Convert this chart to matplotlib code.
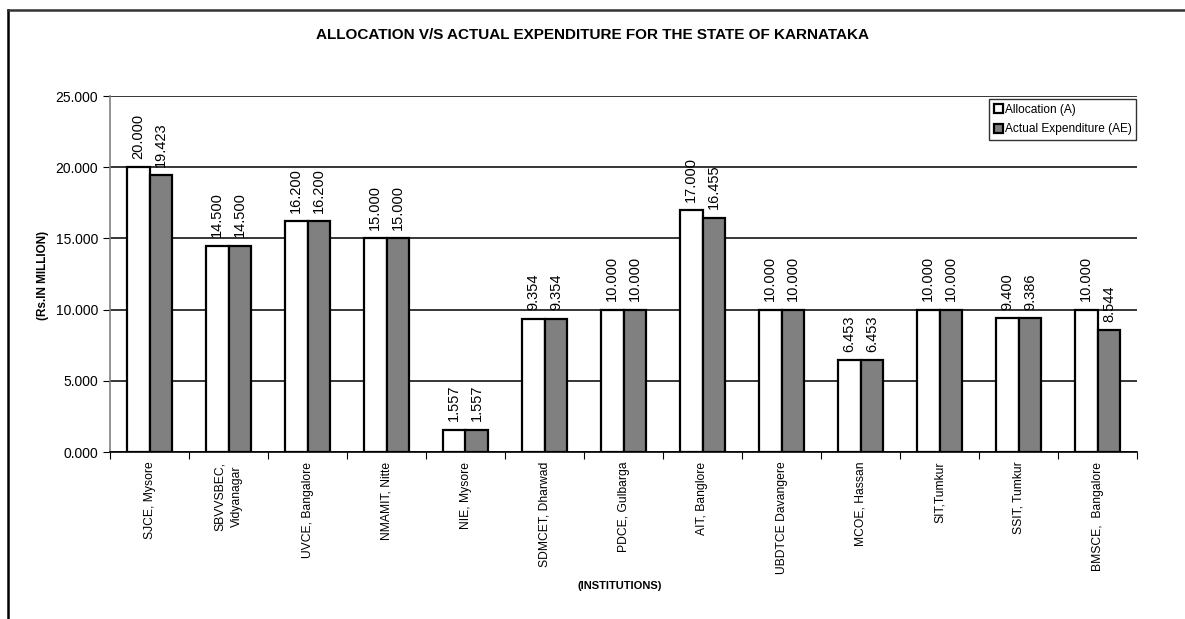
import numpy as np
import matplotlib.pyplot as plt
from matplotlib.lines import Line2D

plt.rcParams['font.family'] = ['Liberation Sans', 'DejaVu Sans']

institutions = ['SJCE, Mysore', 'SBVVSBEC,\nVidyanagar', 'UVCE, Bangalore', 'NMAMIT, Nitte',
                'NIE, Mysore', 'SDMCET, Dharwad', 'PDCE, Gulbarga', 'AIT, Banglore',
                'UBDTCE Davangere', 'MCOE, Hassan', 'SIT,Tumkur', 'SSIT, Tumkur',
                'BMSCE,  Bangalore']
allocation = [20.000, 14.500, 16.200, 15.000, 1.557, 9.354, 10.000, 17.000,
              10.000, 6.453, 10.000, 9.400, 10.000]
expenditure = [19.423, 14.500, 16.200, 15.000, 1.557, 9.354, 10.000, 16.455,
               10.000, 6.453, 10.000, 9.386, 8.544]
yticks = [0, 5, 10, 15, 20, 25]

fig = plt.figure(figsize=(11.85, 6.19), dpi=100)
ax = fig.add_axes([110/1185, 1-452/619, 1027/1185, 356/619])

x = np.arange(len(institutions))
w = 0.29
b1 = ax.bar(x - w/2, allocation, w, color='white', edgecolor='black', linewidth=1.6,
            label='Allocation (A)', zorder=3)
b2 = ax.bar(x + w/2, expenditure, w, color='#808080', edgecolor='black', linewidth=1.6,
            label='Actual Expenditure (AE)', zorder=3)

for bars, vals in [(b1, allocation), (b2, expenditure)]:
    for r, v in zip(bars, vals):
        ax.annotate(f'{v:.3f}', (r.get_x() + r.get_width()/2, v), xytext=(0, 6),
                    textcoords='offset points', rotation=90, ha='center', va='bottom',
                    fontsize=10.5)

ax.set_xlim(-0.5, len(institutions) - 0.5)
ax.set_ylim(0, 25)
ax.set_yticks(yticks)
ax.set_yticklabels([f'{t:.3f}' for t in yticks], fontsize=10)
ax.yaxis.grid(True, color='black', linewidth=1.1, zorder=0)
ax.set_axisbelow(True)

ax.set_xticks(np.arange(-0.5, len(institutions)), minor=False)
ax.set_xticklabels([])
ax.set_xticks(x, minor=True)
ax.set_xticklabels(institutions, minor=True, rotation=90, fontsize=8.7, va='top',
                   ha='center', multialignment='center', linespacing=1.6)
ax.tick_params(axis='x', which='minor', length=0, pad=7)
ax.tick_params(axis='x', which='major', length=5, direction='out', color='black')
ax.tick_params(axis='y', length=5, direction='out', color='black')

for s in ['top', 'right']:
    ax.spines[s].set_visible(False)
ax.spines['left'].set_color('#808080')
ax.spines['left'].set_linewidth(1.2)
ax.spines['bottom'].set_color('black')
ax.spines['bottom'].set_linewidth(1.2)

fig.text(43/1185, 1-275/619, '(Rs.IN MILLION)', fontsize=8.5, fontweight='bold',
         rotation=90, ha='center', va='center')
fig.text(620/1185, 1-586/619, '(INSTITUTIONS)', fontsize=8, fontweight='bold',
         ha='center', va='center')
fig.text(592/1185, 1-35/619, 'ALLOCATION V/S ACTUAL EXPENDITURE FOR THE STATE OF KARNATAKA',
         fontsize=11, fontweight='bold', ha='center', va='center')

leg = ax.legend(loc='upper right', bbox_to_anchor=(0.9995, 0.992), fontsize=8.6,
                frameon=True, fancybox=False, edgecolor='black', handlelength=0.75,
                handleheight=0.75, handletextpad=0.15, borderpad=0.4, labelspacing=0.65,
                borderaxespad=0)
leg.get_frame().set_linewidth(1.0)

fig.add_artist(Line2D([8/1185, 8/1185], [0, 1-10/619], color='black', lw=1.8))
fig.add_artist(Line2D([8/1185, 1], [1-10/619, 1-10/619], color='#333333', lw=1.8))

fig.savefig('out.png', dpi=100)
